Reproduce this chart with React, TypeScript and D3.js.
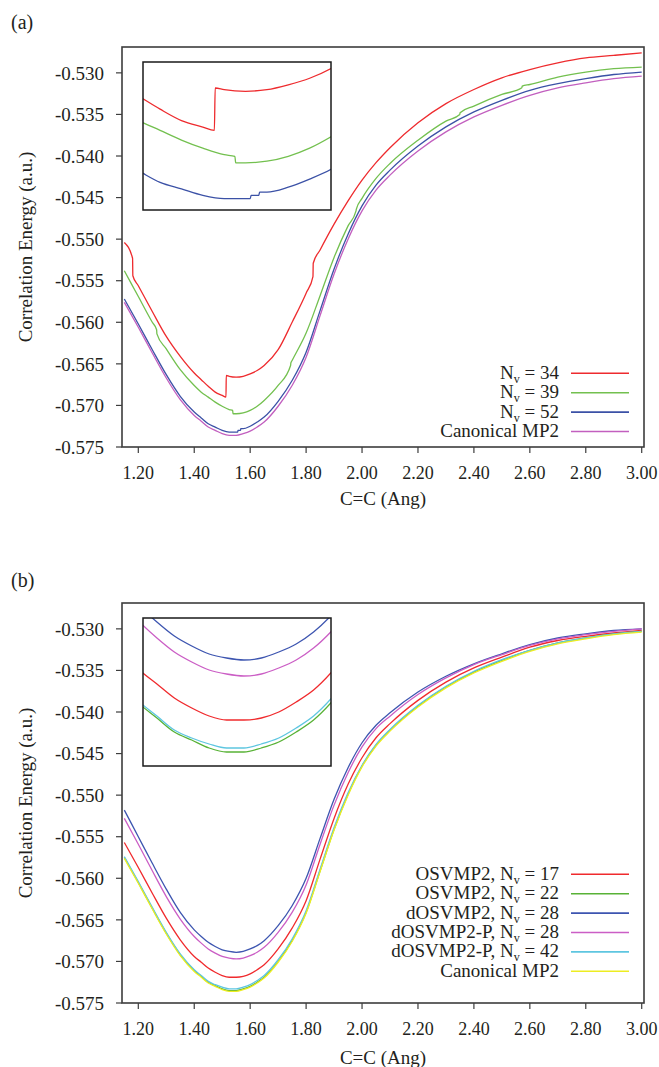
import React, { useEffect, useRef } from 'react';
import * as d3 from 'd3';

// C=C bond length grid (Ang)
const rBond = [1.15, 1.2, 1.25, 1.3, 1.35, 1.4, 1.425, 1.45, 1.475, 1.5, 1.525, 1.55, 1.575, 1.6, 1.625, 1.65,
  1.7, 1.75, 1.8, 1.85, 1.9, 1.95, 2.0, 2.05, 2.1, 2.2, 2.3, 2.4, 2.5, 2.6, 2.7, 2.8, 2.9, 3.0];

const canonical = [-0.5576, -0.5606, -0.5637, -0.5667, -0.5693, -0.5712, -0.5719, -0.5726, -0.5730, -0.5734, -0.5736, -0.5736,
  -0.5734, -0.5731, -0.5726, -0.5720, -0.5701, -0.5676, -0.5642, -0.5592, -0.5542, -0.5500, -0.5466, -0.5441, -0.5423,
  -0.5394, -0.5371, -0.5353, -0.5339, -0.5327, -0.5318, -0.5312, -0.5307, -0.5304];

// panel (a)
const nv34 = [-0.5504, -0.5556, -0.5587, -0.5617, -0.5641, -0.5661, -0.5669, -0.5677, -0.5684, -0.5688, -0.5665, -0.5666,
  -0.5665, -0.5662, -0.5658, -0.5652, -0.5633, -0.5600, -0.5565, -0.5513, -0.5482, -0.5454, -0.5429, -0.5408, -0.5390,
  -0.5360, -0.5337, -0.5320, -0.5306, -0.5296, -0.5288, -0.5282, -0.5279, -0.5276];
const nv39 = [-0.5538, -0.5569, -0.5600, -0.5632, -0.5657, -0.5676, -0.5684, -0.5690, -0.5696, -0.5701, -0.5705, -0.5710,
  -0.5709, -0.5706, -0.5701, -0.5694, -0.5676, -0.5646, -0.5613, -0.5568, -0.5522, -0.5484, -0.5451, -0.5427, -0.5409,
  -0.5381, -0.5358, -0.5340, -0.5326, -0.5314, -0.5305, -0.5299, -0.5295, -0.5293];
const nv52 = [-0.5572, -0.5602, -0.5633, -0.5663, -0.5689, -0.5708, -0.5715, -0.5722, -0.5726, -0.5730, -0.5732, -0.5732,
  -0.5728, -0.5725, -0.5720, -0.5714, -0.5695, -0.5670, -0.5636, -0.5586, -0.5536, -0.5494, -0.5460, -0.5435, -0.5417,
  -0.5388, -0.5365, -0.5347, -0.5333, -0.5321, -0.5313, -0.5307, -0.5302, -0.5299];

// discontinuities: [r, energy before, energy after]
const nv34Steps = [[1.18, -0.5523, -0.5544], [1.514, -0.5690, -0.5664], [1.825, -0.5545, -0.5529]];
const nv39Steps = [[1.266, -0.5609, -0.5614], [1.538, -0.5706, -0.5710], [1.745, -0.5652, -0.5649],
  [1.979, -0.5466, -0.5464], [2.35, -0.5350, -0.5348], [2.572, -0.5318, -0.5316]];
const nv52Steps = [[1.556, -0.5732, -0.5730], [1.566, -0.5730, -0.5728]];

// panel (b)
const osv17 = [-0.5557, -0.5587, -0.5618, -0.5648, -0.5674, -0.5694, -0.5701, -0.5708, -0.5713, -0.5717, -0.5719, -0.5719,
  -0.5718, -0.5715, -0.5710, -0.5704, -0.5685, -0.5660, -0.5627, -0.5577, -0.5528, -0.5487, -0.5455, -0.5431, -0.5414,
  -0.5386, -0.5364, -0.5347, -0.5334, -0.5322, -0.5314, -0.5309, -0.5305, -0.5302];
const osv22 = [-0.5575, -0.5605, -0.5636, -0.5666, -0.5692, -0.5711, -0.5718, -0.5725, -0.5729, -0.5733, -0.5735, -0.5735,
  -0.5733, -0.5730, -0.5725, -0.5719, -0.5700, -0.5675, -0.5641, -0.5591, -0.5541, -0.5499, -0.5465, -0.5440, -0.5422,
  -0.5393, -0.5370, -0.5352, -0.5338, -0.5326, -0.5317, -0.5311, -0.5306, -0.5303];
const dosv28 = [-0.5518, -0.5550, -0.5582, -0.5613, -0.5641, -0.5662, -0.5670, -0.5677, -0.5682, -0.5686, -0.5688, -0.5689,
  -0.5688, -0.5685, -0.5681, -0.5675, -0.5657, -0.5633, -0.5600, -0.5552, -0.5505, -0.5467, -0.5437, -0.5416, -0.5401,
  -0.5376, -0.5357, -0.5342, -0.5330, -0.5319, -0.5311, -0.5306, -0.5302, -0.5300];
const dosvp28 = [-0.5528, -0.5559, -0.5591, -0.5622, -0.5649, -0.5670, -0.5678, -0.5685, -0.5690, -0.5694, -0.5696, -0.5697,
  -0.5696, -0.5693, -0.5689, -0.5683, -0.5665, -0.5641, -0.5608, -0.5559, -0.5512, -0.5473, -0.5442, -0.5420, -0.5405,
  -0.5379, -0.5359, -0.5343, -0.5331, -0.5320, -0.5312, -0.5307, -0.5303, -0.5300];
const dosvp42 = [-0.5574, -0.5604, -0.5635, -0.5665, -0.5691, -0.5710, -0.5717, -0.5724, -0.5728, -0.5731, -0.5733, -0.5733,
  -0.5731, -0.5728, -0.5723, -0.5717, -0.5698, -0.5673, -0.5639, -0.5589, -0.5539, -0.5497, -0.5464, -0.5439, -0.5421,
  -0.5392, -0.5369, -0.5351, -0.5337, -0.5326, -0.5317, -0.5311, -0.5306, -0.5303];

const xTicks = [1.2, 1.4, 1.6, 1.8, 2.0, 2.2, 2.4, 2.6, 2.8, 3.0];
const yTicks = [-0.575, -0.57, -0.565, -0.56, -0.555, -0.55, -0.545, -0.54, -0.535, -0.53];

const FONT = "'Liberation Serif', 'Times New Roman', serif";
const TXT = '#231f20';

const buildPoints = (ys, steps = []) => {
  const pts = rBond.map((r, i) => [r, ys[i]]);
  steps.forEach(([r, before, after]) => {
    pts.push([r - 0.0005, before]);
    pts.push([r + 0.0005, after]);
  });
  return pts.sort((a, b) => a[0] - b[0]);
};

const panels = [
  {
    id: 'a', label: '(a)', top: 47, labelY: 29, titleOffset: 57.5,
    insetX: [1.43, 1.65], insetY: [-0.5739, -0.5648],
    series: [
      { pre: '', sub: 'v', post: ' = 34', color: '#ee2b2e', ys: nv34, steps: nv34Steps, inset: true },
      { pre: '', sub: 'v', post: ' = 39', color: '#73c04f', ys: nv39, steps: nv39Steps, inset: true },
      { pre: '', sub: 'v', post: ' = 52', color: '#3b51a6', ys: nv52, steps: nv52Steps, inset: true },
      { pre: 'Canonical MP2', color: '#c25fbf', ys: canonical, steps: [], inset: false },
    ],
    legendY: 373.3,
  },
  {
    id: 'b', label: '(b)', top: 603, labelY: 587, titleOffset: 60.5,
    insetX: [1.405, 1.675], insetY: [-0.5742, -0.5668],
    series: [
      { pre: 'OSVMP2, ', sub: 'v', post: ' = 17', color: '#f02a2d', ys: osv17, steps: [], inset: true },
      { pre: 'OSVMP2, ', sub: 'v', post: ' = 22', color: '#58b236', ys: osv22, steps: [], inset: true },
      { pre: 'dOSVMP2, ', sub: 'v', post: ' = 28', color: '#3d55b0', ys: dosv28, steps: [], inset: true },
      { pre: 'dOSVMP2-P, ', sub: 'v', post: ' = 28', color: '#cb5ec5', ys: dosvp28, steps: [], inset: true },
      { pre: 'dOSVMP2-P, ', sub: 'v', post: ' = 42', color: '#5ec6e0', ys: dosvp42, steps: [], inset: true },
      { pre: 'Canonical MP2', color: '#eded22', ys: canonical, steps: [], inset: false },
    ],
    legendY: 874.3,
  },
];

const drawPanel = (svg, p) => {
  const left = 122, right = 644, top = p.top, bottom = p.top + 400;
  const x = d3.scaleLinear().domain([1.1417, 3.0082]).range([left, right]);
  const y = d3.scaleLinear().domain([-0.575, -0.52689]).range([bottom, top]);

  const g = svg.append('g');

  g.append('text')
    .attr('x', 11).attr('y', p.labelY)
    .attr('font-family', FONT).attr('font-size', 20).attr('fill', TXT)
    .text(p.label);

  g.append('clipPath').attr('id', `clip-${p.id}`)
    .append('rect').attr('x', left).attr('y', top).attr('width', right - left).attr('height', bottom - top);

  const line = d3.line().x(d => x(d[0])).y(d => y(d[1])).curve(d3.curveMonotoneX);
  const curves = g.append('g').attr('clip-path', `url(#clip-${p.id})`);
  p.series.forEach(s => {
    curves.append('path')
      .attr('d', line(buildPoints(s.ys, s.steps)))
      .attr('fill', 'none').attr('stroke', s.color).attr('stroke-width', 1.3);
  });

  // frame
  g.append('rect')
    .attr('x', left).attr('y', top).attr('width', right - left).attr('height', bottom - top)
    .attr('fill', 'none').attr('stroke', '#3d3d3d').attr('stroke-width', 1.6);

  // ticks
  xTicks.forEach(t => {
    g.append('line').attr('x1', x(t)).attr('x2', x(t)).attr('y1', bottom).attr('y2', bottom + 6)
      .attr('stroke', '#3d3d3d').attr('stroke-width', 1.2);
    g.append('text').attr('x', x(t)).attr('y', bottom + 32)
      .attr('text-anchor', 'middle').attr('font-family', FONT).attr('font-size', 18).attr('fill', TXT)
      .text(t.toFixed(2));
  });
  yTicks.forEach(t => {
    g.append('line').attr('x1', left - 6).attr('x2', left).attr('y1', y(t)).attr('y2', y(t))
      .attr('stroke', '#3d3d3d').attr('stroke-width', 1.2);
    g.append('text').attr('x', 104).attr('y', y(t)).attr('dy', '0.35em')
      .attr('text-anchor', 'end').attr('font-family', FONT).attr('font-size', 19).attr('fill', TXT)
      .text(t.toFixed(3));
  });

  g.append('text')
    .attr('x', (left + right) / 2).attr('y', bottom + p.titleOffset)
    .attr('text-anchor', 'middle').attr('font-family', FONT).attr('font-size', 19).attr('fill', TXT)
    .text('C=C (Ang)');
  g.append('text')
    .attr('transform', `translate(32, ${(top + bottom) / 2}) rotate(-90)`)
    .attr('text-anchor', 'middle').attr('font-family', FONT).attr('font-size', 19).attr('fill', TXT)
    .text('Correlation Energy (a.u.)');

  // legend
  p.series.forEach((s, i) => {
    const ly = p.legendY + i * 19.4;
    const t = g.append('text').attr('x', 559).attr('y', ly + 5.5)
      .attr('text-anchor', 'end').attr('font-family', FONT).attr('font-size', 19).attr('fill', TXT)
      .attr('xml:space', 'preserve');
    if (s.sub) {
      t.append('tspan').text(s.pre + 'N');
      t.append('tspan').attr('dy', 4).attr('font-size', 12).text(s.sub);
      t.append('tspan').attr('dy', -4).text(s.post);
    } else {
      t.text(s.pre);
    }
    g.append('line').attr('x1', 571).attr('x2', 629).attr('y1', ly).attr('y2', ly)
      .attr('stroke', s.color).attr('stroke-width', 1.6);
  });

  // inset: zoom on the minimum
  const iL = 143, iR = 331, iT = top + 15, iB = top + 163;
  const xi = d3.scaleLinear().domain(p.insetX).range([iL, iR]);
  const yi = d3.scaleLinear().domain(p.insetY).range([iB, iT]);
  g.append('rect').attr('x', iL).attr('y', iT).attr('width', iR - iL).attr('height', iB - iT).attr('fill', '#fff');
  g.append('clipPath').attr('id', `iclip-${p.id}`)
    .append('rect').attr('x', iL).attr('y', iT).attr('width', iR - iL).attr('height', iB - iT);
  const iline = d3.line().x(d => xi(d[0])).y(d => yi(d[1])).curve(d3.curveMonotoneX);
  const icurves = g.append('g').attr('clip-path', `url(#iclip-${p.id})`);
  p.series.filter(s => s.inset).forEach(s => {
    icurves.append('path')
      .attr('d', iline(buildPoints(s.ys, s.steps)))
      .attr('fill', 'none').attr('stroke', s.color).attr('stroke-width', 1.3);
  });
  g.append('rect').attr('x', iL).attr('y', iT).attr('width', iR - iL).attr('height', iB - iT)
    .attr('fill', 'none').attr('stroke', '#1a1a1a').attr('stroke-width', 1.5);
};

const App = () => {
  const svgRef = useRef(null);

  useEffect(() => {
    const svg = d3.select(svgRef.current);
    svg.selectAll('*').remove();
    panels.forEach(p => drawPanel(svg, p));
  }, []);

  return (
    <div style={{ position: 'absolute', left: 0, top: 0 }}>
      <svg ref={svgRef} width={659} height={1067} style={{ display: 'block', background: '#fff' }}></svg>
    </div>
  );
};

export default App;
